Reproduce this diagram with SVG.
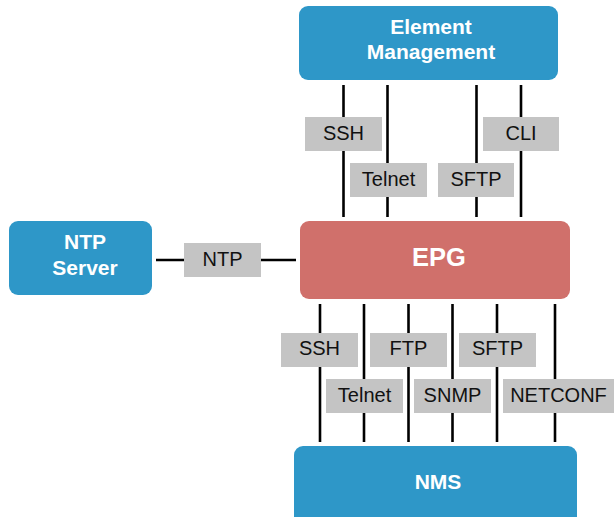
<svg xmlns="http://www.w3.org/2000/svg" width="614" height="517" viewBox="0 0 614 517">
<style>
.blue{fill:#2e97c8}
.red{fill:#d0706b}
.lbl{fill:#c4c4c4}
.ln{stroke:#000;stroke-width:2.6;fill:none}
.t{font-family:"Liberation Sans",Arial,sans-serif;font-size:20px;fill:#111;text-anchor:middle}
.w{font-family:"Liberation Sans",Arial,sans-serif;font-size:21px;font-weight:bold;fill:#fff;text-anchor:middle}
</style>
<rect width="614" height="517" fill="#fff"/>
<g id="connectors">
<line class="ln" x1="343.5" y1="85" x2="343.5" y2="217"/>
<line class="ln" x1="387.5" y1="85" x2="387.5" y2="217"/>
<line class="ln" x1="476.5" y1="85" x2="476.5" y2="217"/>
<line class="ln" x1="521" y1="85" x2="521" y2="217"/>
<line class="ln" x1="156" y1="260" x2="296" y2="260"/>
<line class="ln" x1="320" y1="304" x2="320" y2="442"/>
<line class="ln" x1="364" y1="304" x2="364" y2="442"/>
<line class="ln" x1="408.5" y1="304" x2="408.5" y2="442"/>
<line class="ln" x1="452.5" y1="304" x2="452.5" y2="442"/>
<line class="ln" x1="497" y1="304" x2="497" y2="442"/>
<line class="ln" x1="555" y1="304" x2="555" y2="442"/>
</g>
<g id="labels">
<rect class="lbl" x="305" y="117" width="77" height="34"/><text class="t" x="343.5" y="139.5">SSH</text>
<rect class="lbl" x="483" y="117" width="76" height="34"/><text class="t" x="521" y="139.5">CLI</text>
<rect class="lbl" x="350" y="163" width="77" height="34"/><text class="t" x="388.5" y="186">Telnet</text>
<rect class="lbl" x="438" y="163" width="76" height="34"/><text class="t" x="476" y="186">SFTP</text>
<rect class="lbl" x="184" y="243" width="77" height="34"/><text class="t" x="222.5" y="266">NTP</text>
<rect class="lbl" x="281" y="333" width="77" height="34"/><text class="t" x="319.5" y="355">SSH</text>
<rect class="lbl" x="370" y="333" width="77" height="34"/><text class="t" x="408.5" y="355">FTP</text>
<rect class="lbl" x="459" y="333" width="77" height="34"/><text class="t" x="497.5" y="355">SFTP</text>
<rect class="lbl" x="326" y="379" width="77" height="34"/><text class="t" x="364.5" y="401.5">Telnet</text>
<rect class="lbl" x="414" y="379" width="77" height="34"/><text class="t" x="452.5" y="401.5">SNMP</text>
<rect class="lbl" x="503" y="379" width="115" height="34"/><text class="t" x="558.5" y="401.5">NETCONF</text>
</g>
<g id="element-management">
<rect class="blue" x="299" y="6" width="259" height="74" rx="9"/>
<text class="w" x="431" y="33.5">Element</text>
<text class="w" x="431" y="58.5">Management</text>
</g>
<g id="ntp-server">
<rect class="blue" x="9" y="221" width="143" height="74" rx="9"/>
<text class="w" x="85" y="249">NTP</text>
<text class="w" x="85" y="274.5">Server</text>
</g>
<g id="epg">
<rect class="red" x="300" y="221" width="270" height="78" rx="9"/>
<text class="w" x="439" y="265.5" style="font-size:25.5px">EPG</text>
</g>
<g id="nms">
<rect class="blue" x="294" y="446" width="283" height="90" rx="9"/>
<text class="w" x="438" y="489">NMS</text>
</g>
</svg>
